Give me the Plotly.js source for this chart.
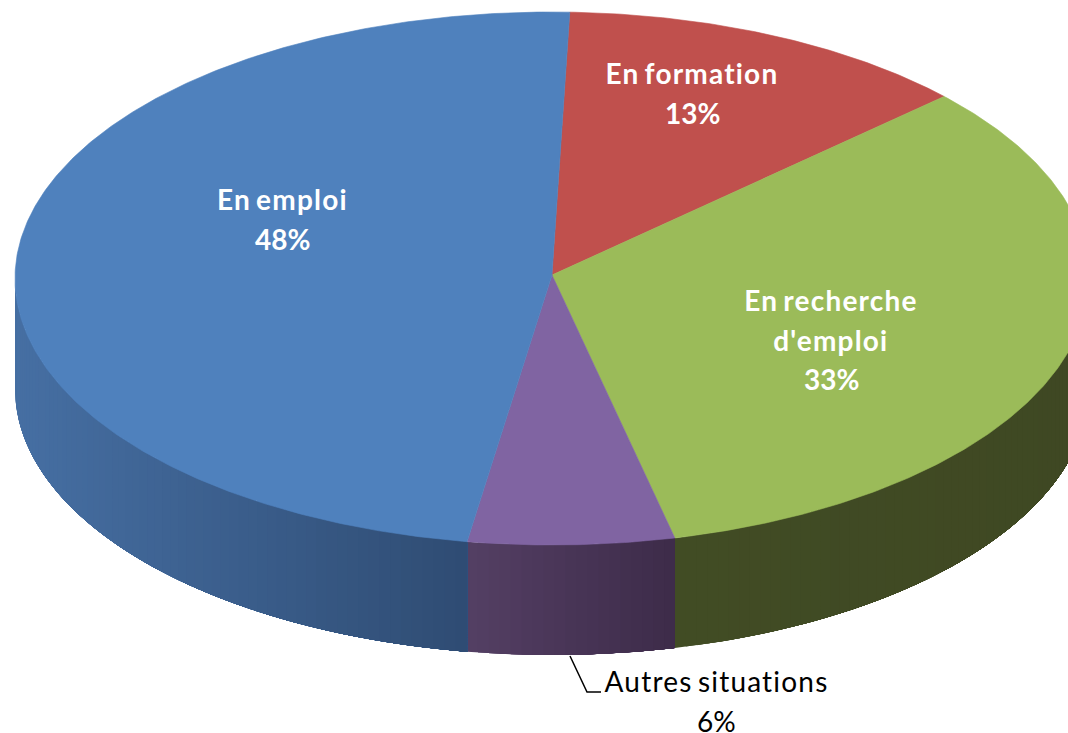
<!DOCTYPE html>
<html>
<head>
<meta charset="utf-8">
<script src="https://cdn.plot.ly/plotly-3.0.1.min.js"></script>
<style>html,body{margin:0;padding:0;background:#fff;overflow:hidden}#chart{width:1068px;height:733px}</style>
</head>
<body>
<div id="chart"></div>
<script>
// Data (clockwise from the start angle), read from the slice boundaries
var categories = ["En formation", "En recherche d'emploi", "Autres situations", "En emploi"];
var values = [12.5, 33.3, 6.2, 48.0];

// Label lines, as drawn
var labelLines = [["En formation"], ["En recherche", "d'emploi"], ["Autres situations"], ["En emploi"]];
var labelCentreX = [692, 831, 716, 282];
var labelFirstY = [73, 300, 681, 199];
var labelColors = ["#ffffff", "#ffffff", "#000000", "#ffffff"];
var labelWeights = [700, 700, 400, 700];

// Styles
var topColors = ["#C0504D", "#9BBB59", "#8064A2", "#4F81BD"];
var sideLeft = ["#7a2f2d", "#414c24", "#543f64", "#466FA3"];
var sideRight = ["#7a2f2d", "#3f4823", "#3d2c49", "#2f4c73"];

// Projection of the tilted pie
var cx = 552, cy = 278.5, rx = 537, ry = 266.5, depth = 110;
var apexX = 552, apexY = 275, startDeg = 1.9;

function rimX(d) { return cx + rx * Math.sin(d * Math.PI / 180); }
function rimY(d) { return cy - ry * Math.cos(d * Math.PI / 180); }
function hex(c) { return [1, 3, 5].map(function (i) { return parseInt(c.substr(i, 2), 16); }); }
function mix(a, b, t) {
  var p = hex(a), q = hex(b);
  return "rgb(" + p.map(function (v, i) { return Math.round(v + (q[i] - v) * t); }).join(",") + ")";
}

var total = values.reduce(function (s, v) { return s + v; }, 0);
var bounds = [startDeg];
values.forEach(function (v, i) { bounds.push(bounds[i] + v / total * 360); });

var traces = [];
function poly(xs, ys, color, width) {
  traces.push({
    type: "scatter", mode: "lines", x: xs, y: ys, fill: "toself", fillcolor: color,
    line: { color: color, width: width }, hoverinfo: "skip", showlegend: false
  });
}

// Side wall: only the near half of the rim (90..270 degrees) is visible.
// Each band runs to the slice's far end in the drawing direction and the next band
// paints over it, so no seams show between bands.
values.forEach(function (v, i) {
  var a = Math.max(bounds[i], 90), b = Math.min(bounds[i + 1], 270);
  if (b <= a) return;
  var xa = Math.min(rimX(a), rimX(b)), xb = Math.max(rimX(a), rimX(b));
  var strips = Math.max(4, Math.round((b - a) / 1.2));
  for (var s = strips - 1; s >= 0; s--) {
    var d0 = a, d1 = a + (b - a) * (s + 1) / strips;
    var dm = a + (b - a) * (s + 0.5) / strips;
    var xs = [], ys = [], n = Math.max(8, Math.ceil((d1 - d0) / 1)), k;
    for (k = 0; k <= n; k++) { var d = d0 + (d1 - d0) * k / n; xs.push(rimX(d)); ys.push(rimY(d)); }
    for (k = n; k >= 0; k--) { var e = d0 + (d1 - d0) * k / n; xs.push(rimX(e)); ys.push(rimY(e) + depth); }
    xs.push(xs[0]); ys.push(ys[0]);
    poly(xs, ys, mix(sideLeft[i], sideRight[i], (rimX(dm) - xa) / (xb - xa)), 0);
  }
});

// Top faces
values.forEach(function (v, i) {
  var xs = [apexX], ys = [apexY], n = Math.ceil((bounds[i + 1] - bounds[i]) / 0.5);
  for (var k = 0; k <= n; k++) {
    var d = bounds[i] + (bounds[i + 1] - bounds[i]) * k / n;
    xs.push(rimX(d)); ys.push(rimY(d));
  }
  xs.push(apexX); ys.push(apexY);
  poly(xs, ys, topColors[i], 0.6);
});

// Leader line of the outside label
traces.push({
  type: "scatter", mode: "lines", x: [570, 587, 601], y: [656, 692, 692],
  line: { color: "#000000", width: 1.5 }, hoverinfo: "skip", showlegend: false
});

// Labels
var annotations = [];
categories.forEach(function (c, i) {
  var lines = labelLines[i].concat([Math.round(values[i]) + "%"]);
  lines.forEach(function (t, j) {
    annotations.push({
      x: labelCentreX[i], y: labelFirstY[i] + j * 39.5, xref: "x", yref: "y", text: t, showarrow: false,
      xanchor: "center", yanchor: "middle",
      font: { family: "Lato, 'Open Sans', sans-serif", size: 28, color: labelColors[i], weight: labelWeights[i] }
    });
  });
});

var layout = {
  width: 1068, height: 733,
  margin: { l: 0, r: 0, t: 0, b: 0 },
  paper_bgcolor: "#ffffff", plot_bgcolor: "#ffffff",
  showlegend: false, hovermode: false,
  xaxis: { range: [0, 1068], visible: false, fixedrange: true },
  yaxis: { range: [733, 0], visible: false, fixedrange: true },
  annotations: annotations
};
Plotly.newPlot("chart", traces, layout, { displayModeBar: false, staticPlot: true }).then(function () {
  // The reference's word labels are set a little wider than Lato's default spacing
  document.querySelectorAll("#chart .annotation-text").forEach(function (el) {
    if (el.textContent.indexOf("%") < 0) { el.style.letterSpacing = "1.2px"; el.style.wordSpacing = "-3px"; }
  });
});
</script>
</body>
</html>
